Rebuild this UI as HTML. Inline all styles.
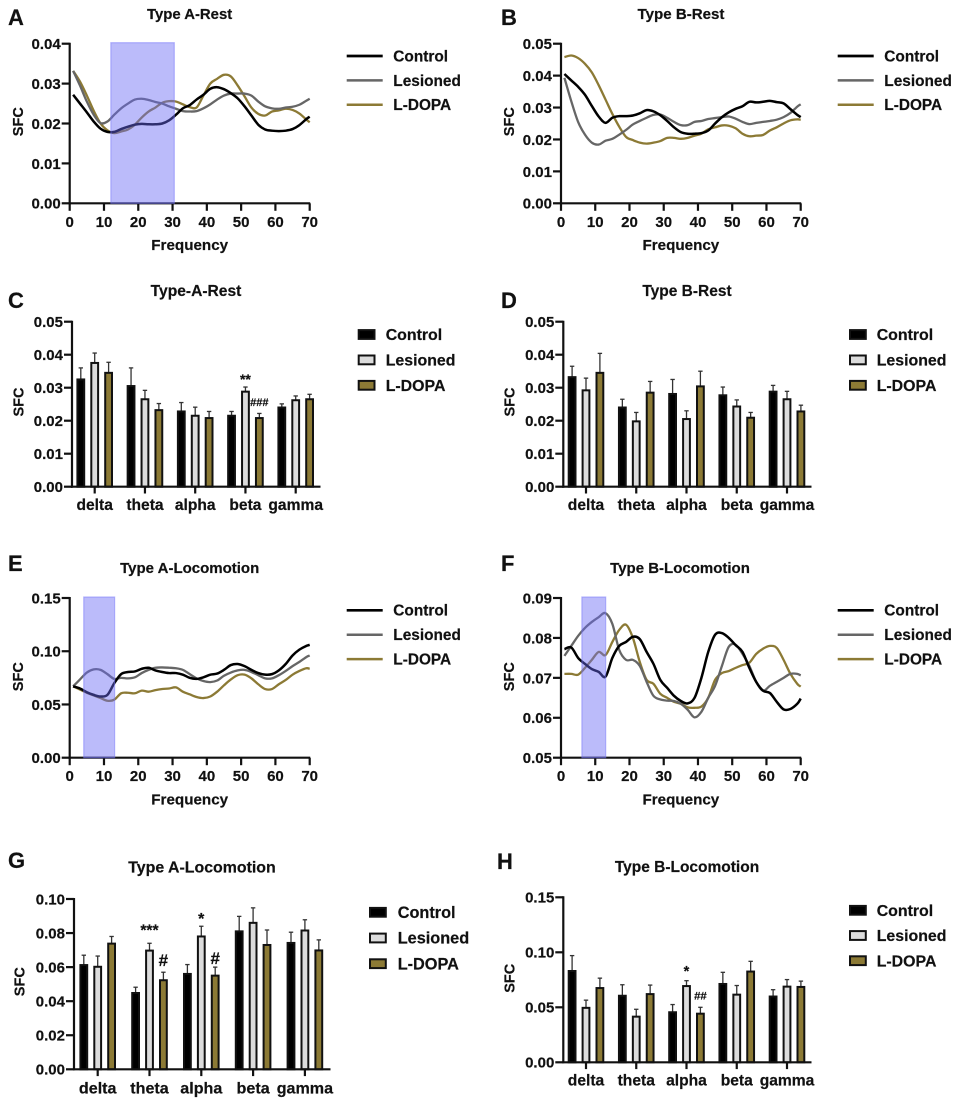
<!DOCTYPE html>
<html lang="en">
<head>
<meta charset="utf-8">
<title>SFC by frequency: Type A and Type B, rest and locomotion</title>
<style>
  html, body { margin: 0; padding: 0; background: #fff; }
  svg { display: block; font-family: "Liberation Sans", Arial, sans-serif; font-weight: bold; filter: blur(0.3px); }
  text { fill: #111; stroke: #111; stroke-width: 0.2px; }
</style>
</head>
<body>
<svg id="figure" width="960" height="1106" viewBox="0 0 960 1106" xmlns="http://www.w3.org/2000/svg"></svg>
<script>
/* ---------- shared labels ---------- */
const seriesNames = ['Control', 'Lesioned', 'L-DOPA'];
const bandNames = ['delta', 'theta', 'alpha', 'beta', 'gamma'];
const freqs = [1,3,5,7,9,11,13,15,17,19,21,23,25,27,29,31,33,35,37,39,41,43,45,47,49,51,53,55,57,59,61,63,65,67,69,70];
const freqTicks = [0,10,20,30,40,50,60,70];

/* ---------- panel A ---------- */
const aYTicks = [0,0.01,0.02,0.03,0.04];
const aBandRange = [12,30.5];
const aControl = [.0272,.0250,.0228,.0205,.0187,.0179,.0179,.0186,.0192,.0197,.0199,.0198,.0198,.0200,.0208,.0222,.0238,.0246,.0260,.0272,.0287,.0291,.0286,.0276,.0263,.0243,.0220,.0197,.0185,.0182,.0181,.0182,.0186,.0196,.0211,.0217];
const aLesioned = [.0332,.0295,.0255,.0222,.0201,.0205,.0222,.0238,.0250,.0260,.0262,.0259,.0254,.0250,.0243,.0237,.0231,.0230,.0231,.0238,.0248,.0260,.0270,.0275,.0275,.0275,.0270,.0255,.0243,.0238,.0237,.0240,.0242,.0247,.0257,.0262];
const aLdopa = [.0332,.0305,.0270,.0232,.0200,.0183,.0176,.0180,.0185,.0197,.0215,.0230,.0240,.0252,.0256,.0255,.0248,.0241,.0240,.0270,.0300,.0312,.0322,.0318,.0295,.0268,.0240,.0224,.0220,.0230,.0233,.0237,.0234,.0225,.0210,.0203];

/* ---------- panel B ---------- */
const bYTicks = [0,0.01,0.02,0.03,0.04,0.05];
const bControl = [.0405,.0385,.0365,.0340,.0305,.0272,.0252,.0268,.0273,.0273,.0275,.0282,.0292,.0288,.0276,.0258,.0238,.0223,.0218,.0218,.0220,.0228,.0250,.0270,.0285,.0296,.0304,.0318,.0316,.0318,.0321,.0317,.0313,.0295,.0277,.0270];
const bLesioned = [.0393,.0320,.0255,.0215,.0190,.0184,.0196,.0202,.0215,.0230,.0247,.0258,.0268,.0277,.0278,.0268,.0255,.0245,.0245,.0255,.0258,.0264,.0267,.0270,.0272,.0265,.0255,.0248,.0252,.0255,.0258,.0262,.0270,.0283,.0303,.0310];
const bLdopa = [.0458,.0463,.0455,.0437,.0410,.0370,.0325,.0280,.0240,.0208,.0198,.0190,.0187,.0190,.0195,.0205,.0205,.0202,.0205,.0212,.0218,.0232,.0238,.0244,.0243,.0235,.0218,.0210,.0212,.0214,.0228,.0238,.0250,.0260,.0263,.0262];

/* ---------- panel C ---------- */
const cYTicks = [0,0.01,0.02,0.03,0.04,0.05];
const cControl = [.0325,.0305,.0228,.0215,.0240];
const cLesioned = [.0375,.0265,.0215,.0288,.0262];
const cLdopa = [.0345,.0232,.0208,.0208,.0265];
const cControlErr = [.0035,.0055,.0027,.0013,.0011];
const cLesionedErr = [.0030,.0027,.0026,.0014,.0013];
const cLdopaErr = [.0032,.0020,.0020,.0014,.0015];
const cMarks = [
  {group: 3, series: 1, text: '**', value: .0311},
  {group: 3, series: 2, text: '###', value: .02445}
];

/* ---------- panel D ---------- */
const dYTicks = [0,0.01,0.02,0.03,0.04,0.05];
const dControl = [.0332,.0240,.0281,.0277,.0288];
const dLesioned = [.0292,.0198,.0205,.0243,.0265];
const dLdopa = [.0345,.0285,.0304,.0209,.0228];
const dControlErr = [.0033,.0025,.0044,.0025,.0019];
const dLesionedErr = [.0037,.0027,.0025,.0020,.0024];
const dLdopaErr = [.0059,.0034,.0046,.0016,.0019];
const dMarks = [];

/* ---------- panel E ---------- */
const eYTicks = [0,0.05,0.10,0.15];
const eBandRange = [4.1,13.1];
const eControl = [.0670,.0650,.0615,.0590,.0575,.0590,.0700,.0785,.0805,.0810,.0835,.0845,.0820,.0805,.0795,.0795,.0780,.0750,.0740,.0755,.0780,.0790,.0825,.0870,.0880,.0860,.0825,.0795,.0780,.0785,.0820,.0880,.0960,.1015,.1050,.1060];
const eLesioned = [.0670,.0735,.0800,.0830,.0825,.0785,.0740,.0750,.0745,.0755,.0795,.0825,.0845,.0848,.0845,.0840,.0825,.0785,.0745,.0720,.0710,.0725,.0770,.0800,.0820,.0825,.0805,.0775,.0745,.0745,.0775,.0815,.0860,.0900,.0945,.0960];
const eLdopa = [.0670,.0640,.0610,.0585,.0560,.0535,.0545,.0605,.0610,.0605,.0630,.0620,.0635,.0645,.0650,.0660,.0620,.0595,.0570,.0560,.0575,.0620,.0680,.0735,.0775,.0780,.0745,.0690,.0645,.0645,.0690,.0730,.0780,.0815,.0840,.0835];

/* ---------- panel F ---------- */
const fYTicks = [0.05,0.06,0.07,0.08,0.09];
const fBandRange = [6.1,13.05];
const fControl = [.0772,.0776,.0750,.0735,.0722,.0715,.0703,.0750,.0780,.0790,.0803,.0797,.0765,.0735,.0695,.0675,.0655,.0642,.0636,.0650,.0700,.0765,.0808,.0812,.0800,.0782,.0765,.0725,.0690,.0668,.0662,.0640,.0621,.0622,.0635,.0648];
const fLesioned = [.0755,.0780,.0805,.0825,.0840,.0852,.0862,.0835,.0770,.0745,.0745,.0730,.0690,.0655,.0646,.0643,.0642,.0635,.0620,.0601,.0615,.0650,.0680,.0730,.0778,.0783,.0760,.0730,.0690,.0668,.0680,.0690,.0700,.0710,.0710,.0706];
const fLdopa = [.0710,.0710,.0708,.0725,.0745,.0765,.0757,.0790,.0820,.0833,.0800,.0740,.0695,.0685,.0660,.0650,.0640,.0635,.0626,.0625,.0628,.0650,.0695,.0712,.0717,.0725,.0732,.0738,.0760,.0773,.0780,.0775,.0745,.0710,.0685,.0678];

/* ---------- panel G ---------- */
const gYTicks = [0,0.02,0.04,0.06,0.08,0.10];
const gControl = [.0612,.0448,.0560,.0810,.0742];
const gLesioned = [.0602,.0697,.0780,.0860,.0815];
const gLdopa = [.0738,.0523,.0550,.0730,.0698];
const gControlErr = [.0058,.0034,.0055,.0088,.0063];
const gLesionedErr = [.0063,.0043,.0060,.0088,.0063];
const gLdopaErr = [.0042,.0047,.0050,.0088,.0062];
const gMarks = [
  {group: 1, series: 1, text: '***', value: .0786},
  {group: 1, series: 2, text: '#', value: .0607},
  {group: 2, series: 1, text: '*', value: .0853},
  {group: 2, series: 2, text: '#', value: .0618}
];

/* ---------- panel H ---------- */
const hYTicks = [0,0.05,0.10,0.15];
const hControl = [.0830,.0605,.0455,.0712,.0598];
const hLesioned = [.0495,.0415,.0693,.0615,.0688];
const hLdopa = [.0675,.0620,.0442,.0825,.0685];
const hControlErr = [.0140,.0100,.0070,.0106,.0062];
const hLesionedErr = [.0070,.0067,.0049,.0083,.0064];
const hLdopaErr = [.0090,.0082,.0058,.0093,.0053];
const hMarks = [
  {group: 2, series: 1, text: '*', value: .0785},
  {group: 2, series: 2, text: '##', value: .0569}
];

/* ---------- drawing helpers ---------- */
const SVG_NS = 'http://www.w3.org/2000/svg';
const root = document.getElementById('figure');
const LINE_COLORS = ['#000000', '#666666', '#8c7a35'];
const BAR_FILLS = ['#000000', '#dcdcdc', '#8c7a35'];
const AXIS_COLOR = '#111111';

function make(tag, attrs, parent, content) {
  const node = document.createElementNS(SVG_NS, tag);
  for (const key in attrs) node.setAttribute(key, attrs[key]);
  if (content !== undefined) node.textContent = content;
  parent.appendChild(node);
  return node;
}

function smoothPath(points) {
  let d = 'M' + points[0][0].toFixed(2) + ' ' + points[0][1].toFixed(2);
  for (let i = 0; i < points.length - 1; i++) {
    const p0 = points[Math.max(i - 1, 0)];
    const p1 = points[i];
    const p2 = points[i + 1];
    const p3 = points[Math.min(i + 2, points.length - 1)];
    const c1x = p1[0] + (p2[0] - p0[0]) / 6;
    const c1y = p1[1] + (p2[1] - p0[1]) / 6;
    const c2x = p2[0] - (p3[0] - p1[0]) / 6;
    const c2y = p2[1] - (p3[1] - p1[1]) / 6;
    d += 'C' + c1x.toFixed(2) + ' ' + c1y.toFixed(2) + ' ' + c2x.toFixed(2) + ' ' + c2y.toFixed(2) + ' ' + p2[0].toFixed(2) + ' ' + p2[1].toFixed(2);
  }
  return d;
}

function drawCommon(g, p, yScale) {
  const letter = make('text', {x: p.letterX, y: p.letterY, 'font-size': 22}, g, p.letter);
  
  

  const title = make('text', {x: p.titleX, y: p.titleY, 'font-size': p.titleSize, 'text-anchor': 'middle'}, g, p.title);
  
  

  const yTitle = make('text', {x: 0, y: 0, 'font-size': 14.5, 'text-anchor': 'middle', transform: 'translate(' + p.sfcX + ' ' + p.sfcY + ') rotate(-90)'}, g, 'SFC');
  
  

  const yAxis = make('line', {x1: p.x0, x2: p.x0, y1: p.yTop - 1, y2: p.yBot + 1, stroke: AXIS_COLOR, 'stroke-width': 2.2}, g);
  
  

  p.yTicks.forEach(function (value) {
    const py = yScale(value);
    const tick = make('line', {x1: p.x0 - 8, x2: p.x0, y1: py, y2: py, stroke: AXIS_COLOR, 'stroke-width': 2.2}, g);
    
    
    const label = make('text', {x: p.x0 - 9, y: py + 5.4, 'font-size': 15, 'text-anchor': 'end'}, g, value.toFixed(2));
    
    
  });

  const xAxis = make('line', {x1: p.x0 - 1, x2: p.x1 + 0.5, y1: p.yBot, y2: p.yBot, stroke: AXIS_COLOR, 'stroke-width': 2.2}, g);
  
  
}

function drawLinePanel(p) {
  const g = make('g', {}, root);
  
  
  const xScale = function (f) { return p.x0 + (f / 70) * (p.x1 - p.x0); };
  const yScale = function (v) { return p.yBot - (v - p.yMin) / (p.yMax - p.yMin) * (p.yBot - p.yTop); };

  drawCommon(g, p, yScale);

  freqTicks.forEach(function (f) {
    const px = xScale(f);
    const tick = make('line', {x1: px, x2: px, y1: p.yBot, y2: p.yBot + 7.5, stroke: AXIS_COLOR, 'stroke-width': 2.2}, g);
    
    
    const label = make('text', {x: px, y: p.yBot + 23.5, 'font-size': 15, 'text-anchor': 'middle'}, g, String(f));
    
    
  });

  const xTitle = make('text', {x: (p.x0 + p.x1) / 2, y: p.yBot + 46.8, 'font-size': 15.2, 'text-anchor': 'middle'}, g, 'Frequency');
  
  

  for (let s = 2; s >= 0; s--) {
    const pts = freqs.map(function (f, i) { return [xScale(f), yScale(p.series[s][i])]; });
    const path = make('path', {d: smoothPath(pts), fill: 'none', stroke: LINE_COLORS[s], 'stroke-width': s === 0 ? 2.5 : 2.3, 'stroke-linejoin': 'round'}, g);
    
    
  }

  if (p.band) {
    const bx0 = xScale(p.band[0]);
    const bx1 = xScale(p.band[1]);
    const rect = make('rect', {x: bx0, y: p.yTop - 1, width: bx1 - bx0, height: p.yBot - p.yTop + 1, fill: 'rgba(105,105,245,0.45)', stroke: 'rgba(120,120,250,0.5)', 'stroke-width': 1.2}, g);
    
    
  }

  seriesNames.forEach(function (name, s) {
    const ly = p.legendY + s * p.legendStep;
    const key = make('line', {x1: p.legendX, x2: p.legendX + 36, y1: ly, y2: ly, stroke: LINE_COLORS[s], 'stroke-width': s === 0 ? 2.7 : 2.5}, g);
    
    
    const label = make('text', {x: p.legendX + 46.6, y: ly + 5.4, 'font-size': 15.4}, g, name);
    
    
  });
}

function drawBarPanel(p) {
  const g = make('g', {}, root);
  
  
  const catX = function (i) { return p.groupFirst + i * p.groupStep; };
  const barX = function (i, s) { return catX(i) + (s - 1) * 13.9; };
  const yScale = function (v) { return p.yBot - (v - p.yMin) / (p.yMax - p.yMin) * (p.yBot - p.yTop); };

  bandNames.forEach(function (name, i) {
    for (let s = 0; s < 3; s++) {
      const cx = barX(i, s);
      const value = p.series[s][i];
      const err = p.errors[s][i];
      const whisker = make('line', {x1: cx, x2: cx, y1: yScale(value), y2: yScale(value + err), stroke: '#333333', 'stroke-width': 1.3}, g);
      
      
      const cap = make('line', {x1: cx - 2.2, x2: cx + 2.2, y1: yScale(value + err), y2: yScale(value + err), stroke: '#333333', 'stroke-width': 1.3}, g);
      
      
      const bar = make('rect', {x: cx - 3.4, y: yScale(value), width: 6.8, height: p.yBot - yScale(value), fill: BAR_FILLS[s], stroke: '#111111', 'stroke-width': 2}, g);
      
      
    }
    const tick = make('line', {x1: catX(i), x2: catX(i), y1: p.yBot, y2: p.yBot + 6.8, stroke: AXIS_COLOR, 'stroke-width': 2.2}, g);
    
    
    const label = make('text', {x: catX(i), y: p.catY, 'font-size': p.catSize, 'text-anchor': 'middle'}, g, name);
    
    
  });

  drawCommon(g, p, yScale);

  p.marks.forEach(function (mark) {
    const size = p.markSizes[mark.text];
    const note = make('text', {x: barX(mark.group, mark.series), y: yScale(mark.value), 'font-size': size, 'text-anchor': 'middle'}, g, mark.text);
    
    
  });

  seriesNames.forEach(function (name, s) {
    const ly = p.legendY + s * p.legendStep;
    const swatch = make('rect', {x: p.legendX + 1, y: ly - 4.4, width: 15.8, height: 8.8, fill: BAR_FILLS[s], stroke: '#111111', 'stroke-width': 2}, g);
    
    
    const label = make('text', {x: p.legendTextX, y: ly + 5.6, 'font-size': p.legendSize}, g, name);
    
    
  });
}

/* ---------- panels ---------- */
drawLinePanel({letter: 'A', letterX: 8, letterY: 25, title: 'Type A-Rest', titleX: 189.6, titleY: 19, titleSize: 14.9,
  sfcX: 23, sfcY: 121.7, x0: 69.7, x1: 309.7, yTop: 43.7, yBot: 203.3, yMin: 0, yMax: 0.04, yTicks: aYTicks,
  series: [aControl, aLesioned, aLdopa], band: aBandRange, legendX: 346.7, legendY: 56, legendStep: 24.4});

drawLinePanel({letter: 'B', letterX: 501, letterY: 25, title: 'Type B-Rest', titleX: 681, titleY: 19, titleSize: 15.1,
  sfcX: 514, sfcY: 121.7, x0: 561, x1: 800.7, yTop: 43.7, yBot: 203.3, yMin: 0, yMax: 0.05, yTicks: bYTicks,
  series: [bControl, bLesioned, bLdopa], band: null, legendX: 837.7, legendY: 56, legendStep: 24.4});

drawBarPanel({letter: 'C', letterX: 8, letterY: 308, title: 'Type-A-Rest', titleX: 196, titleY: 296, titleSize: 15.6,
  sfcX: 23.3, sfcY: 402, x0: 72, x1: 320, yTop: 321.7, yBot: 486.7, yMin: 0, yMax: 0.05, yTicks: cYTicks,
  series: [cControl, cLesioned, cLdopa], errors: [cControlErr, cLesionedErr, cLdopaErr], marks: cMarks,
  markSizes: {'**': 14, '###': 11}, groupFirst: 94.7, groupStep: 50.25, catY: 510, catSize: 15.6,
  legendX: 357.7, legendTextX: 385.7, legendY: 334.5, legendStep: 25.4, legendSize: 15.9});

drawBarPanel({letter: 'D', letterX: 501, letterY: 308, title: 'Type B-Rest', titleX: 687, titleY: 296, titleSize: 15.5,
  sfcX: 514.7, sfcY: 402, x0: 563.3, x1: 811, yTop: 321.7, yBot: 486.7, yMin: 0, yMax: 0.05, yTicks: dYTicks,
  series: [dControl, dLesioned, dLdopa], errors: [dControlErr, dLesionedErr, dLdopaErr], marks: dMarks,
  markSizes: {}, groupFirst: 586, groupStep: 50.25, catY: 510, catSize: 15.6,
  legendX: 849, legendTextX: 876.7, legendY: 334.5, legendStep: 25.4, legendSize: 15.9});

drawLinePanel({letter: 'E', letterX: 8, letterY: 571, title: 'Type A-Locomotion', titleX: 189.7, titleY: 573, titleSize: 15,
  sfcX: 23, sfcY: 676.7, x0: 69.7, x1: 309.7, yTop: 598, yBot: 757.7, yMin: 0, yMax: 0.15, yTicks: eYTicks,
  series: [eControl, eLesioned, eLdopa], band: eBandRange, legendX: 346.7, legendY: 610.3, legendStep: 24.4});

drawLinePanel({letter: 'F', letterX: 501, letterY: 571, title: 'Type B-Locomotion', titleX: 680, titleY: 573, titleSize: 15,
  sfcX: 514, sfcY: 676.7, x0: 561, x1: 800.7, yTop: 598, yBot: 757.7, yMin: 0.05, yMax: 0.09, yTicks: fYTicks,
  series: [fControl, fLesioned, fLdopa], band: fBandRange, legendX: 837.7, legendY: 610.3, legendStep: 24.4});

drawBarPanel({letter: 'G', letterX: 8, letterY: 868, title: 'Type A-Locomotion', titleX: 202, titleY: 872.7, titleSize: 15.9,
  sfcX: 24.7, sfcY: 981.7, x0: 74, x1: 330, yTop: 899, yBot: 1069.3, yMin: 0, yMax: 0.10, yTicks: gYTicks,
  series: [gControl, gLesioned, gLdopa], errors: [gControlErr, gLesionedErr, gLdopaErr], marks: gMarks,
  markSizes: {'***': 15.7, '#': 17, '*': 16}, groupFirst: 97.7, groupStep: 51.8, catY: 1093.3, catSize: 16.1,
  legendX: 369, legendTextX: 397.7, legendY: 912.3, legendStep: 25.7, legendSize: 16.3});

drawBarPanel({letter: 'H', letterX: 497, letterY: 869, title: 'Type B-Locomotion', titleX: 687, titleY: 872, titleSize: 15.5,
  sfcX: 514.7, sfcY: 978.3, x0: 563.3, x1: 811, yTop: 897.3, yBot: 1062.3, yMin: 0, yMax: 0.15, yTicks: hYTicks,
  series: [hControl, hLesioned, hLdopa], errors: [hControlErr, hLesionedErr, hLdopaErr], marks: hMarks,
  markSizes: {'*': 14.6, '##': 11.4}, groupFirst: 586, groupStep: 50.25, catY: 1085.7, catSize: 15.6,
  legendX: 849, legendTextX: 876.7, legendY: 910.3, legendStep: 25.2, legendSize: 15.9});
</script>
</body>
</html>
